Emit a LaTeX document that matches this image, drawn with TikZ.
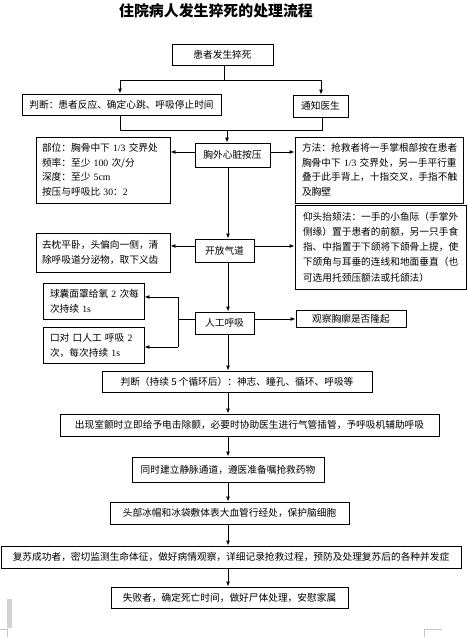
\documentclass[tikz,border=0pt]{standalone}
\usepackage{fontspec}
\setmainfont{Noto Sans CJK SC}
\newfontfamily\lat{Liberation Serif}
\usetikzlibrary{arrows.meta}
\begin{document}
\begin{tikzpicture}[x=1pt,y=-1pt,
  box/.style={draw, line width=0.9pt, inner sep=0pt, font=\fontsize{9.7}{14.5}\selectfont, align=center},
  mbox/.style={box, align=left},
  arr/.style={-{Latex[length=5pt,width=4pt]}, line width=0.9pt},
  ln/.style={line width=0.9pt},
  pagemark/.style={draw=gray!45, line width=0.6pt}]
\useasboundingbox (0,0) rectangle (468,637);

% title
\node[font=\fontsize{14.9}{16}\selectfont\bfseries] (title) at (216,11) {住院病人发生猝死的处理流程};

% boxes
\node[box, minimum width=101pt, minimum height=21pt] (n1) at (222.5,54.5) {患者发生猝死};
\node[box, minimum width=199pt, minimum height=21pt] (judge1) at (121.5,104.5) {判断：患者反应、确定心跳、呼吸停止时间};
\node[box, minimum width=55pt, minimum height=22pt] (notify) at (320.5,106) {通知医生};
\node[box, minimum width=75pt, minimum height=24pt] (cpr) at (232.5,155) {胸外心脏按压};
\node[mbox, inner xsep=6pt, text width=122pt, minimum height=66pt] (cprL) at (103,170)
  {部位：胸骨中下~{\lat 1/3}~交界处\\频率：至少~{\lat 100}~次/分\\深度：至少~{\lat 5cm}\\按压与呼吸比~{\lat 30}：{\lat 2}};
\node[mbox, inner xsep=7pt, text width=154pt, minimum height=66pt] (cprR) at (379,170)
  {方法：抢救者将一手掌根部按在患者\\胸骨中下~{\lat 1/3}~交界处，另一手平行重\\叠于此手背上，十指交叉，手指不触\\及胸壁};
\node[box, minimum width=59pt, minimum height=23pt] (air) at (224.5,250.5) {开放气道};
\node[mbox, inner xsep=6pt, text width=122pt, minimum height=39pt] (airL) at (103,252.5)
  {去枕平卧，头偏向一侧，清\\除呼吸道分泌物，取下义齿};
\node[mbox, inner xsep=8pt, text width=155pt, minimum height=84pt, font=\fontsize{9.7}{15.2}\selectfont] (airR) at (380.5,247)
  {仰头抬颏法：一手的小鱼际（手掌外\\侧缘）置于患者的前额，另一只手食\\指、中指置于下颌将下颌骨上提，使\\下颌角与耳垂的连线和地面垂直（也\\可选用托颈压额法或托颌法）};
\node[box, minimum width=59pt, minimum height=22pt] (breath) at (224.5,323) {人工呼吸};
\node[box, minimum width=110pt, minimum height=17pt] (obs) at (351,319) {观察胸廓是否隆起};
\node[mbox, inner xsep=7pt, text width=87pt, minimum height=36pt, font=\fontsize{9.7}{15}\selectfont] (bagL) at (93.5,301)
  {球囊面罩给氧~{\lat 2}~次每\\次持续~{\lat 1s}};
\node[mbox, inner xsep=7pt, text width=87pt, minimum height=36pt, font=\fontsize{9.7}{15}\selectfont] (mouthL) at (93.5,345)
  {口对~口人工~呼吸~{\lat 2}\\次，每次持续~{\lat 1s}};
\node[box, minimum width=270pt, minimum height=21pt] (judge2) at (237,381.5) {判断（持续 5 个循环后）：神志、瞳孔、循环、呼吸等};
\node[box, minimum width=379pt, minimum height=22pt] (vf) at (249.5,425) {出现室颤时立即给予电击除颤，必要时协助医生进行气管插管，予呼吸机辅助呼吸};
\node[box, minimum width=192pt, minimum height=25pt] (iv) at (228,469.5) {同时建立静脉通道，遵医准备嘱抢救药物};
\node[box, minimum width=239pt, minimum height=22pt] (ice) at (229.5,513) {头部冰帽和冰袋敷体表大血管行经处，保护脑细胞};
\node[box, minimum width=460pt, minimum height=22pt] (ok) at (231,557) {复苏成功者，密切监测生命体征，做好病情观察，详细记录抢救过程，预防及处理复苏后的各种并发症};
\node[box, minimum width=237pt, minimum height=21pt] (fail) at (229.5,597.5) {失败者，确定死亡时间，做好尸体处理，安慰家属};

% helper coordinates
\coordinate (b1) at (224,80);
\coordinate (bl) at (120,80);
\coordinate (br) at (321,80);
\coordinate (cl) at (120,130);
\coordinate (cr) at (322,130);
\coordinate (cm) at (227,130);
\coordinate (mx) at (228,0);
\coordinate (h1) at (0,152);
\coordinate (h2) at (0,246);
\coordinate (h3) at (0,319);
\coordinate (bj) at (178,319);
\coordinate (bt) at (178,297);
\coordinate (bb) at (178,347);

% connectors
\draw[ln] (n1.south -| b1) -- (b1);
\draw[ln] (bl) -- (br);
\draw[arr] (bl) -- (judge1.north -| bl);
\draw[arr] (br) -- (notify.north -| br);
\draw[ln] (judge1.south -| cl) -- (cl) -- (cr) -- (notify.south -| cr);
\draw[arr] (cm) -- (cpr.north -| cm);
\draw[arr] (cpr.west |- h1) -- (cprL.east |- h1);
\draw[arr] (cpr.east |- h1) -- (cprR.west |- h1);
\draw[arr] (cpr.south -| mx) -- (air.north -| mx);
\draw[arr] (air.west |- h2) -- (airL.east |- h2);
\draw[arr] (air.east |- h2) -- (airR.west |- h2);
\draw[arr] (air.south -| mx) -- (breath.north -| mx);
\draw[arr] (breath.east |- h3) -- (obs.west |- h3);
\draw[ln] (breath.west |- bj) -- (bj);
\draw[ln] (bt) -- (bb);
\draw[arr] (bt) -- (bagL.east |- bt);
\draw[arr] (bb) -- (mouthL.east |- bb);
\draw[arr] (breath.south -| mx) -- (judge2.north -| mx);
\draw[arr] (judge2.south -| mx) -- (vf.north -| mx);
\draw[arr] (vf.south -| mx) -- (iv.north -| mx);
\draw[arr] (iv.south -| mx) -- (ice.north -| mx);
\draw[arr] (ice.south -| mx) -- (ok.north -| mx);
\draw[arr] (ok.south -| mx) -- (fail.north -| mx);

% page artefacts
\fill[gray!35] (7,599) rectangle (12,628);
\draw[pagemark] (0,629.5) -- (7.5,629.5) -- (7.5,637);
\draw[pagemark] (442,629.5) -- (424.5,629.5) -- (424.5,637);
\end{tikzpicture}
\end{document}
